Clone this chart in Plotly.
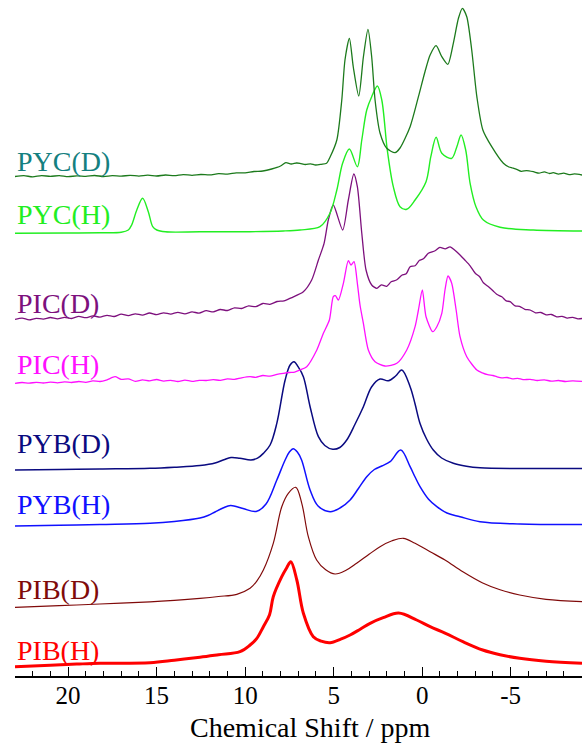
import plotly.graph_objects as go

# ---------------- data (chemical shift in ppm, intensity in arbitrary units) ----------------
series_names = ["PYC(D)", "PYC(H)", "PIC(D)", "PIC(H)", "PYB(D)", "PYB(H)", "PIB(D)", "PIB(H)"]

ppm_pycd = [23.0, 22.5, 22.0, 21.5, 21.0, 20.5, 20.0, 19.5, 19.0, 18.5, 18.0, 17.5, 17.0, 16.5, 16.0,
            15.5, 15.0, 14.5, 14.0, 13.5, 13.0, 12.5, 12.0, 11.5, 11.0, 10.5, 10.0, 9.5, 9.0, 8.5,
            8.0, 7.7, 7.4, 7.1, 6.9, 6.6, 6.3, 6.02, 5.7, 5.4, 5.2, 4.82, 4.54, 4.36, 4.11, 3.89,
            3.58, 3.32, 3.06, 2.85, 2.66, 2.38, 2.0, 1.53, 1.25, 0.68, 0.21, -0.16, -0.45, -0.79,
            -1.11, -1.45, -1.76, -2.05, -2.27, -2.52, -2.8, -3.09, -3.43, -3.93, -4.59, -4.9, -5.1,
            -5.34, -5.6, -5.9, -6.28, -6.6, -6.9, -7.2, -7.41, -7.7, -8.0, -8.3, -8.6, -9.03]
int_pycd = [0, 0.8, -0.3, 0.9, 0.1, 0.9, -0.2, 0.7, 0.2, 1.0, 0.0, 0.9, 0.3, 1.2, 0.4,
            1.3, 0.5, 1.5, 0.8, 1.9, 1.2, 2.0, 1.6, 2.8, 2.4, 3.6, 3.6, 5.0, 5.5, 7.5,
            10.5, 13.8, 12.5, 13.5, 13.2, 12.0, 12.6, 11.5, 12.2, 13.2, 19.5, 36.5, 76.5, 116.5, 138.2, 109.5,
            80.5, 119.5, 147.2, 119.5, 76.5, 43.5, 28.2, 23.8, 28.5, 49.8, 79.8, 104.8, 121.5, 130.8,
            119.8, 112.2, 133.2, 158.2, 168.2, 159.8, 126.5, 79.8, 46.5, 29.8, 13.2, 9.5, 8.5,
            7.2, 5.2, 5.9, 4.8, 3.4, 4.6, 3.0, 3.8, 2.4, 3.3, 1.8, 2.6, 1.5]

ppm_pych = [23.0, 20.0, 18.2, 17.0, 16.6, 16.41, 16.12, 15.79, 15.47, 15.22, 14.99, 14.5, 12.55, 9.72,
            7.84, 6.9, 5.77, 5.2, 4.82, 4.49, 4.11, 3.66, 3.41, 3.13, 2.85, 2.53, 2.28, 1.97, 1.63,
            1.25, 0.87, 0.4, -0.22, -0.49, -0.79, -1.11, -1.67, -1.96, -2.2, -2.46, -2.71, -3.04,
            -3.46, -4.4, -6.28, -9.03]
int_pych = [0, 0.3, 0.5, 1.0, 3.3, 8.3, 23.3, 35.0, 21.6, 6.6, 3.3, 1.5, 1.5, 1.6,
            2.3, 3.3, 6.6, 20.3, 43.3, 70.3, 84.3, 66.6, 93.3, 123.3, 136.6, 147.3, 133.3, 83.3, 46.6,
            26.6, 24.0, 33.3, 51.6, 76.6, 96.0, 80.0, 75.0, 86.6, 98.3, 83.3, 50.0, 26.6,
            13.3, 6.0, 3.3, 2.3]

ppm_picd = [23.0, 22.6, 22.2, 21.8, 21.4, 21.0, 20.6, 20.2, 19.8, 19.4, 19.0, 18.6, 18.2, 17.8, 17.4,
            17.0, 16.6, 16.2, 15.8, 15.4, 15.0, 14.6, 14.2, 13.8, 13.4, 13.0, 12.6, 12.2, 11.8, 11.4,
            11.0, 10.6, 10.2, 9.8, 9.4, 9.0, 8.6, 8.2, 7.8, 7.4,
            6.71, 6.24, 5.86, 5.54, 5.30, 5.02, 4.49, 4.17, 3.86, 3.66, 3.41, 3.17, 2.85,
            2.56, 2.3, 2.0, 1.75, 1.43, 1.15, 0.9, 0.68, 0.4, 0.15, -0.07, -0.35, -0.73, -1.0,
            -1.3, -1.58, -1.85, -2.14, -2.4, -2.71, -3.0, -3.25, -3.46, -3.75, -4.0, -4.21, -4.5,
            -4.75, -4.97, -5.25, -5.5, -5.8, -6.1, -6.4, -6.7, -7.0, -7.3, -7.6, -7.9, -8.2, -8.5,
            -8.8, -9.03]
int_picd = [0, 1.2, -0.6, 1.0, 0.2, 1.8, 0.5, 2.0, 0.8, 2.9, 1.6, 3.4, 2.2, 4.0, 2.8,
            5.2, 3.6, 5.5, 4.2, 6.3, 4.6, 6.5, 5.2, 7.0, 5.5, 7.4, 6.2, 8.6, 7.4, 9.8,
            8.8, 11.5, 10.8, 13.4, 12.6, 15.8, 15.0, 17.8, 18.4, 21.5,
            27.6, 39.3, 59.3, 76.0, 99.3, 114.3, 89.3, 119.3, 145.3, 132.6, 86.0, 49.3, 34.3,
            31.0, 34.5, 33.0, 37.5, 39.5, 44.0, 45.5, 52.6, 53.5, 59.0, 60.5, 66.0, 68.5, 72.0,
            70.5, 72.5, 69.0, 64.3, 59.5, 53.5, 46.0, 42.5, 36.5, 32.5, 28.5, 25.0, 22.5,
            18.5, 17.6, 13.5, 13.0, 10.0, 9.3, 6.5, 6.8, 4.5, 4.8, 2.5, 3.0, 1.2, 2.0,
            0.5, 0.8]

ppm_pich = [23.0, 22.6, 22.2, 21.8, 21.4, 21.0, 20.6, 20.2, 19.8, 19.4, 19.0, 18.6, 18.2, 17.8, 17.35,
            17.0, 16.6, 16.2, 15.8, 15.4, 15.0, 14.6, 14.2, 13.8, 13.4, 13.0, 12.6, 12.2, 11.8, 11.4,
            11.0, 10.6, 10.2, 9.72, 9.4, 9.0, 8.6, 8.2, 7.84, 7.5, 7.2, 6.9,
            6.52, 5.95, 5.58, 5.24, 5.02, 4.9, 4.73, 4.45, 4.17, 4.02, 3.85, 3.66, 3.51, 3.32,
            3.04, 2.66, 2.1, 1.43, 0.87, 0.4, 0.21, -0.01, -0.22, -0.6, -0.83, -1.11, -1.29, -1.46,
            -1.67, -1.92, -2.14, -2.52,
            -3.09, -3.4, -3.7, -4.0, -4.21, -4.5, -4.8, -5.1, -5.4, -5.7, -6.1, -6.5, -6.9, -7.3,
            -7.7, -8.1, -8.5, -9.03]
int_pich = [0, 0.8, 0.1, 1.0, 0.3, 1.2, 0.5, 1.4, 0.8, 1.8, 1.0, 2.5, 1.8, 3.5, 6.6,
            4.0, 4.5, 2.0, 3.5, 2.5, 3.8, 2.2, 3.0, 1.8, 3.2, 2.0, 3.0, 2.8, 3.6, 3.0,
            4.5, 4.0, 5.5, 6.6, 6.0, 7.8, 7.2, 9.0, 10.0, 10.8, 11.2, 13.3,
            16.6, 33.3, 50.0, 63.3, 86.6, 87.6, 83.3, 100.0, 122.6, 118.3, 121.6, 100.0, 78.3, 60.0,
            33.3, 21.6, 17.3, 20.0, 33.3, 56.6, 73.3, 93.3, 66.6, 51.6, 56.6, 70.0, 93.3, 107.3,
            100.0, 73.3, 46.6, 26.6,
            13.3, 10.5, 8.6, 7.8, 6.6, 5.4, 5.8, 4.5, 5.0, 3.6, 4.0, 2.8, 3.4, 2.2,
            2.8, 1.8, 2.5, 2.0]

ppm_pybd = [23.0, 20.5, 18.2, 15.37, 14.0, 12.55, 11.7, 11.2, 10.8, 10.3, 9.67, 9.3, 8.97, 8.59, 8.21,
            7.74, 7.46, 7.24, 7.01, 6.71, 6.33, 5.86, 5.5, 5.05, 4.65, 4.26, 3.8, 3.32, 2.85, 2.38,
            1.91, 1.5, 1.15, 0.68, 0.4, 0.12, -0.25, -0.63, -1.1, -1.76, -2.5, -3.27, -5.53, -9.03]
int_pybd = [0, 0.5, 1.0, 1.7, 2.8, 4.5, 7.0, 10.3, 12.5, 11.8, 10.0, 11.8, 16.6, 25.0, 46.6,
            90.0, 105.0, 108.3, 103.3, 93.3, 63.3, 33.3, 24.5, 20.7, 22.5, 30.0, 45.5, 63.3, 83.3, 91.0,
            89.3, 94.0, 100.0, 83.3, 66.0, 46.6, 31.0, 20.0, 12.0, 6.7, 3.8, 2.3, 1.5, 1.5]

ppm_pybh = [23.0, 20.5, 18.2, 15.37, 14.0, 12.55, 12.1, 11.7, 11.25, 10.82, 10.12, 9.38, 8.82, 8.21,
            7.74, 7.5, 7.28, 7.05, 6.81, 6.33, 5.88, 5.2, 4.6, 4.07, 3.6, 3.13, 2.7, 2.28, 1.81,
            1.21, 0.68, 0.4, 0.12, -0.35, -0.83, -1.4, -2.14, -3.27, -5.53, -9.03]
int_pybh = [0, 0.7, 1.5, 2.7, 4.5, 8.0, 10.5, 14.0, 18.0, 20.5, 17.5, 14.5, 22.0, 46.0,
            66.0, 74.0, 77.3, 74.0, 66.0, 36.0, 20.0, 14.3, 18.5, 26.0, 37.5, 49.3, 56.5, 60.0, 64.3,
            76.0, 59.3, 49.0, 39.3, 27.0, 19.3, 13.0, 9.3, 4.3, 2.0, 1.5]

ppm_pibd = [23.0, 20.5, 18.2, 15.37, 14.0, 12.55, 11.5, 10.47, 9.72, 9.35, 8.97, 8.41, 7.93, 7.56,
            7.14, 6.80, 6.43, 5.96, 5.45, 4.92, 4.3, 3.70, 3.0, 2.38, 1.7, 1.06, 0.4, -0.45, -1.29,
            -2.3, -3.42, -4.4, -5.51, -7.0, -9.03]
int_pibd = [0, 1.6, 3.3, 5.5, 7.0, 9.0, 10.8, 13.0, 19.0, 26.0, 37.3, 64.0, 100.6, 114.0,
            120.0, 104.0, 70.6, 47.3, 37.5, 33.3, 37.0, 44.0, 53.0, 60.6, 66.5, 69.0, 64.0, 55.6, 47.3,
            35.5, 24.3, 17.5, 12.3, 8.0, 5.6]

ppm_pibh = [23.0, 21.0, 19.5, 18.2, 15.37, 14.0, 12.55, 11.5, 10.29, 9.72, 9.35, 8.97, 8.62, 8.41,
            7.93, 7.65, 7.42, 7.08, 6.71, 6.15, 5.7, 5.2, 4.6, 4.07, 3.5, 2.94, 2.2, 1.33, 0.31,
            -0.45, -1.32, -2.3, -3.42, -4.4, -5.51, -7.0, -9.03]
int_pibh = [0, 1.5, 2.6, 3.4, 4.0, 6.5, 9.5, 12.0, 15.0, 21.7, 28.0, 40.0, 52.0, 70.0,
            90.0, 99.0, 105.0, 86.7, 53.4, 30.0, 25.5, 24.0, 27.5, 31.7, 37.5, 43.4, 49.0, 53.7, 46.7,
            40.0, 33.4, 25.0, 16.7, 12.0, 8.4, 5.5, 3.4]

tick_vals = [20, 15, 10, 5, 0, -5]
tick_text = ["20", "15", "10", "5", "0", "-5"]
x_title = "Chemical Shift / ppm"

# ---------------- presentation (stacking offsets, colours, widths) ----------------
spectra = {
    "PYC(D)": (ppm_pycd, int_pycd),
    "PYC(H)": (ppm_pych, int_pych),
    "PIC(D)": (ppm_picd, int_picd),
    "PIC(H)": (ppm_pich, int_pich),
    "PYB(D)": (ppm_pybd, int_pybd),
    "PYB(H)": (ppm_pybh, int_pybh),
    "PIB(D)": (ppm_pibd, int_pibd),
    "PIB(H)": (ppm_pibh, int_pibh),
}
offsets = {"PYC(D)": 499.5, "PYC(H)": 442.7, "PIC(D)": 356.7, "PIC(H)": 292.7,
           "PYB(D)": 206.0, "PYB(H)": 150.0, "PIB(D)": 68.7, "PIB(H)": 9.3}
label_y = {"PYC(D)": 514.8, "PYC(H)": 461.8, "PIC(D)": 373.0, "PIC(H)": 311.8,
           "PYB(D)": 232.7, "PYB(H)": 171.8, "PIB(D)": 86.8, "PIB(H)": 26.0}
line_colors = {"PYC(D)": "#1c7a1c", "PYC(H)": "#22ee22", "PIC(D)": "#7d107d", "PIC(H)": "#ff10ff",
               "PYB(D)": "#0a0a80", "PYB(H)": "#1010ff", "PIB(D)": "#800a0a", "PIB(H)": "#ff0000"}
label_colors = {"PYC(D)": "#148080", "PYC(H)": "#22ee22", "PIC(D)": "#7d107d", "PIC(H)": "#ff10ff",
                "PYB(D)": "#0a0a80", "PYB(H)": "#1010ff", "PIB(D)": "#800a0a", "PIB(H)": "#ff0000"}
widths = {"PYC(D)": 1.3, "PYC(H)": 1.4, "PIC(D)": 1.3, "PIC(H)": 1.3,
          "PYB(D)": 1.5, "PYB(H)": 1.5, "PIB(D)": 1.2, "PIB(H)": 3.0}
smooth = {"PYC(D)": 0.7, "PYC(H)": 0.9, "PIC(D)": 0.7, "PIC(H)": 0.7,
          "PYB(D)": 1.0, "PYB(H)": 1.0, "PIB(D)": 1.0, "PIB(H)": 1.0}

SERIF = "Liberation Serif"

for n, (p, v) in spectra.items():
    assert len(p) == len(v), (n, len(p), len(v))

fig = go.Figure()
for name in reversed(series_names):
    ppm, inten = spectra[name]
    fig.add_trace(go.Scatter(
        x=ppm, y=[offsets[name] + v for v in inten], mode="lines",
        line=dict(color=line_colors[name], width=widths[name], shape="spline",
                  smoothing=smooth[name]),
        showlegend=False, hoverinfo="skip"))

annotations = []
for name in series_names:
    annotations.append(dict(x=0, xref="paper", xanchor="left", y=label_y[name], yref="y",
                            yanchor="middle", text=name, showarrow=False,
                            font=dict(family=SERIF, size=28, color=label_colors[name])))
annotations.append(dict(x=(310 - 15) / 567, xref="paper", xanchor="center",
                        y=(676 - 727) / 676, yref="paper", yanchor="middle",
                        text=x_title, showarrow=False,
                        font=dict(family=SERIF, size=28, color="black")))

fig.update_layout(
    width=582, height=744,
    margin=dict(l=15, r=0, t=0, b=68),
    paper_bgcolor="white", plot_bgcolor="white",
    annotations=annotations,
    xaxis=dict(range=[23.0, -9.03], showgrid=False, zeroline=False,
               showline=True, linecolor="black", linewidth=1.5,
               ticks="inside", ticklen=9, tickwidth=1.3, tickcolor="black",
               tickvals=tick_vals, ticktext=tick_text, ticklabelstandoff=-4,
               tickfont=dict(family=SERIF, size=25, color="black"),
               minor=dict(ticks="inside", ticklen=5, tickwidth=1.2, tickcolor="black",
                          dtick=1, tick0=0, showgrid=False)),
    yaxis=dict(range=[0, 676], visible=False, showgrid=False, zeroline=False),
)

fig.write_html("out.html")
